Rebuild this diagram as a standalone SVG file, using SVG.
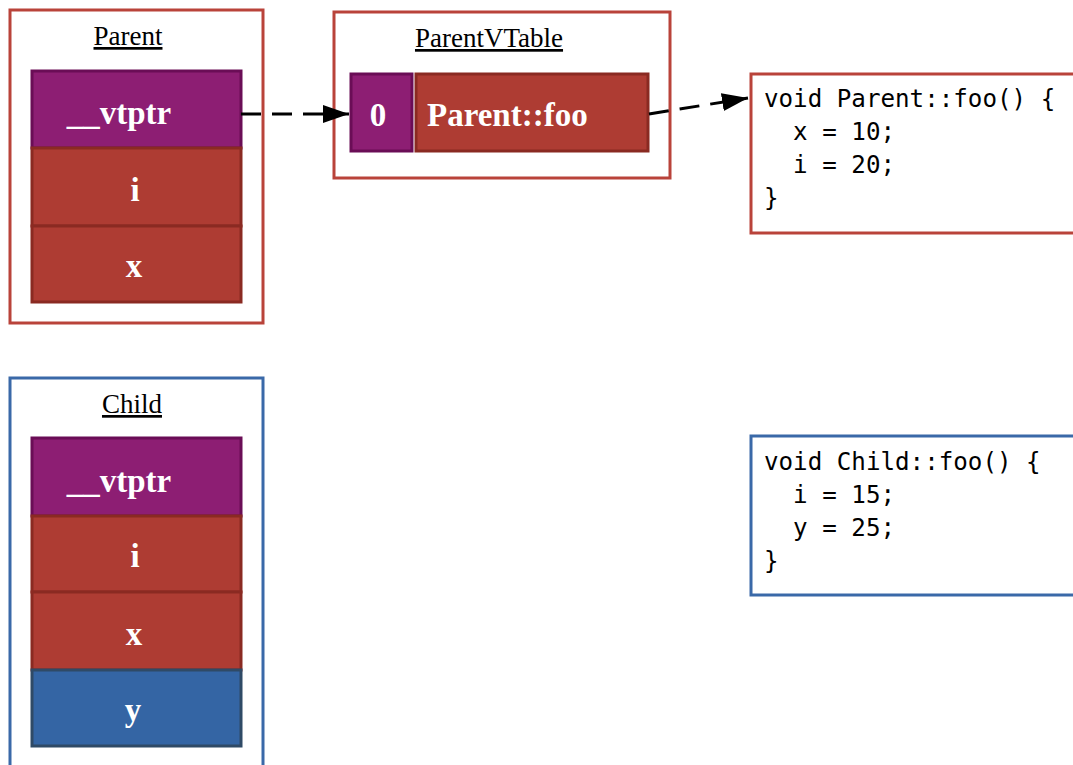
<svg xmlns="http://www.w3.org/2000/svg" width="1073" height="765" viewBox="0 0 1073 765">
<defs>
<style>
.box-red{fill:#fff;stroke:#b9433a;stroke-width:3}
.box-blue{fill:#fff;stroke:#3a69a8;stroke-width:3}
.title{font-family:"Liberation Serif",serif;font-size:27px;fill:#000;text-anchor:middle;text-decoration:underline}
.cell-p{fill:#8d1e73;stroke:#6a0d56;stroke-width:3}
.cell-r{fill:#ae3c33;stroke:#8a2a22;stroke-width:3}
.cell-b{fill:#3465a4;stroke:#2f4a66;stroke-width:3}
.lbl{font-family:"Liberation Serif",serif;font-size:33px;font-weight:bold;fill:#fff;text-anchor:middle}
.code{font-family:"DejaVu Sans Mono",monospace;font-size:24.2px;fill:#000;white-space:pre}
.conn{fill:none;stroke:#000;stroke-width:3;stroke-dasharray:20 11}
</style>
<marker id="arrow" viewBox="0 0 26 18" refX="26" refY="9" markerWidth="26" markerHeight="18" markerUnits="userSpaceOnUse" orient="auto">
<path d="M0,0 L26,9 L0,18 z" fill="#000"/>
</marker>
</defs>

<g id="parent">
<rect class="box-red" x="10" y="10" width="253" height="313"/>
<text class="title" x="128" y="45">Parent</text>
<rect class="cell-p" x="32" y="71" width="209" height="77"/>
<text class="lbl" x="119" y="124">__vtptr</text>
<rect class="cell-r" x="32" y="148" width="209" height="78"/>
<text class="lbl" x="135" y="201">i</text>
<rect class="cell-r" x="32" y="226" width="209" height="76"/>
<text class="lbl" x="134" y="277">x</text>
</g>

<g id="parentvtable">
<rect class="box-red" x="334" y="12" width="336" height="166"/>
<text class="title" x="489" y="47">ParentVTable</text>
<rect class="cell-p" x="351" y="74" width="61" height="77"/>
<text class="lbl" x="378" y="126">0</text>
<rect class="cell-r" x="416" y="74" width="232" height="77"/>
<text class="lbl" x="427" y="126" style="text-anchor:start">Parent::foo</text>
</g>

<g id="parent-foo">
<rect class="box-red" x="751" y="74" width="340" height="159"/>
<text class="code" x="764" y="107">void Parent::foo() {</text>
<text class="code" x="764" y="140">  x = 10;</text>
<text class="code" x="764" y="173">  i = 20;</text>
<text class="code" x="764" y="206">}</text>
</g>

<g id="child">
<rect class="box-blue" x="10" y="378" width="253" height="400"/>
<text class="title" x="132" y="413">Child</text>
<rect class="cell-p" x="32" y="438" width="209" height="78"/>
<text class="lbl" x="119" y="492">__vtptr</text>
<rect class="cell-r" x="32" y="516" width="209" height="76"/>
<text class="lbl" x="135" y="567">i</text>
<rect class="cell-r" x="32" y="592" width="209" height="78"/>
<text class="lbl" x="134" y="645">x</text>
<rect class="cell-b" x="32" y="670" width="209" height="76"/>
<text class="lbl" x="133" y="721">y</text>
</g>

<g id="child-foo">
<rect class="box-blue" x="751" y="436" width="340" height="159"/>
<text class="code" x="764" y="470">void Child::foo() {</text>
<text class="code" x="764" y="503">  i = 15;</text>
<text class="code" x="764" y="536">  y = 25;</text>
<text class="code" x="764" y="569">}</text>
</g>

<g id="connectors">
<line class="conn" x1="241" y1="114" x2="349" y2="114" marker-end="url(#arrow)"/>
<line class="conn" x1="649" y1="114" x2="748" y2="98" marker-end="url(#arrow)"/>
</g>
</svg>
